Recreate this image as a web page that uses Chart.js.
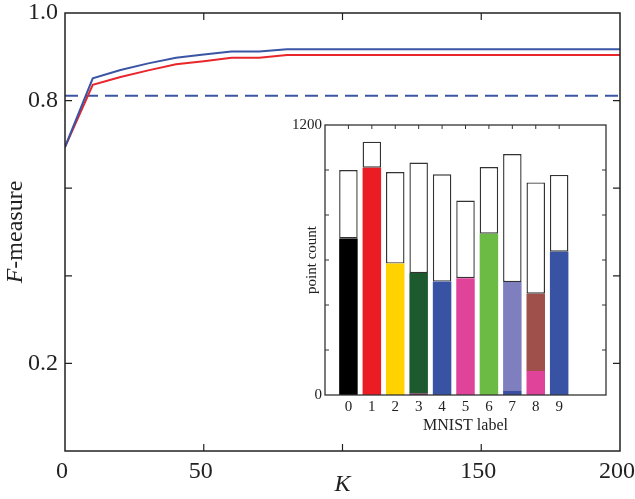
<!DOCTYPE html>
<html>
<head>
<meta charset="utf-8">
<script src="https://cdn.jsdelivr.net/npm/chart.js@4/dist/chart.umd.min.js"></script>
<style>
  body { margin: 0; background: #fff; }
  #wrap { position: relative; width: 635px; height: 499px; }
  #mainChart { position: absolute; left: 0; top: 0; }
  #insetChart { position: absolute; left: 290px; top: 115px; }
</style>
</head>
<body>
<div id="wrap">
  <canvas id="mainChart" width="635" height="499"></canvas>
  <canvas id="insetChart" width="322" height="325"></canvas>
</div>
<script>

// main plot: F-measure against K
var kValues = [0, 10, 20, 30, 40, 50, 60, 70, 80, 90, 100, 110, 120, 130, 140, 150, 160, 170, 180, 190, 200];
var fBlue   = [0.694, 0.851, 0.870, 0.885, 0.898, 0.905, 0.912, 0.912, 0.917, 0.917, 0.917, 0.917, 0.917, 0.917, 0.917, 0.917, 0.917, 0.917, 0.917, 0.917, 0.917];
var fRed    = [0.694, 0.836, 0.854, 0.869, 0.883, 0.890, 0.898, 0.898, 0.904, 0.904, 0.904, 0.904, 0.904, 0.904, 0.904, 0.904, 0.904, 0.904, 0.904, 0.904, 0.904];
var fBaseline = 0.811;
var yLabelsShown = ['1.0', '0.8', '0.2'];

// inset: point count per MNIST label
var mnistLabels     = [0, 1, 2, 3, 4, 5, 6, 7, 8, 9];
var minorCount      = [0, 0, 0, 7, 0, 0, 0, 18, 107, 0];
var majorCount      = [696, 1010, 584, 535, 504, 519, 717, 484, 343, 637];
var clusterTotal    = [1000, 1126, 991, 1033, 981, 864, 1013, 1071, 945, 978];
var majorColors = ['#000000', '#ec1c24', '#ffd200', '#1d5a2e', '#3953a4', '#e0449a', '#6cbb45', '#7f7fc0', '#a0504a', '#3953a4'];
var minorColors = ['#000000', '#000000', '#000000', '#7a2a5a', '#000000', '#000000', '#000000', '#3a4fa0', '#e0449a', '#000000'];

var serif = "'Liberation Serif', 'DejaVu Serif', serif";

function pts(ys){
	return kValues.map(function(k, i){ return {x: k, y: ys[i]}; });
}

// box round the plot area plus inward tick marks
var frameTicks = {
	id: 'frameTicks',
	afterDraw(chart, args, opts){
		var ctx = chart.ctx, a = chart.chartArea, sx = chart.scales.x, sy = chart.scales.y;
		var len = opts.length;
		ctx.save();
		ctx.strokeStyle = opts.color;
		ctx.lineWidth = opts.width;
		ctx.beginPath();
		sy.ticks.forEach(function(t){
			if(t.value <= sy.min || t.value >= sy.max) return;
			var py = sy.getPixelForValue(t.value);
			ctx.moveTo(a.left, py); ctx.lineTo(a.left + len, py);
			ctx.moveTo(a.right, py); ctx.lineTo(a.right - len, py);
		});
		sx.ticks.forEach(function(t){
			if(t.value <= sx.min || t.value >= sx.max) return;
			if(opts.xOnly && opts.xOnly.indexOf(t.value) < 0) return;
			var px = sx.getPixelForValue(t.value);
			if(opts.bottom){ ctx.moveTo(px, a.bottom); ctx.lineTo(px, a.bottom - len); }
			ctx.moveTo(px, a.top); ctx.lineTo(px, a.top + len);
		});
		ctx.stroke();
		ctx.lineWidth = opts.frameWidth;
		ctx.strokeRect(a.left, a.top, a.right - a.left, a.bottom - a.top);
		ctx.restore();
	}
};

// "F-measure" with italic F
var mixedYTitle = {
	id: 'mixedYTitle',
	afterDraw(chart){
		var ctx = chart.ctx, a = chart.chartArea;
		var f1 = 'italic 24px ' + serif, f2 = '24px ' + serif;
		ctx.save();
		ctx.font = f1; var w1 = ctx.measureText('F').width;
		ctx.font = f2; var w2 = ctx.measureText('-measure').width;
		ctx.translate(16, (a.top + a.bottom) / 2);
		ctx.rotate(-Math.PI / 2);
		ctx.fillStyle = '#222';
		ctx.textBaseline = 'middle';
		ctx.textAlign = 'left';
		var x0 = -(w1 + w2) / 2;
		ctx.font = f1; ctx.fillText('F', x0, 0);
		ctx.font = f2; ctx.fillText('-measure', x0 + w1, 0);
		ctx.restore();
	}
};

new Chart(document.getElementById('mainChart'), {
	type: 'line',
	data: {
		datasets: [{
			data: pts(fBlue),
			borderColor: '#3b55a5',
			borderWidth: 2
		},{
			data: pts(fRed),
			borderColor: '#e8262b',
			borderWidth: 2
		},{
			data: [{x: kValues[0], y: fBaseline}, {x: kValues[kValues.length - 1], y: fBaseline}],
			borderColor: '#3b55a5',
			borderWidth: 2,
			borderDash: [13, 7]
		}]
	},
	options: {
		responsive: false,
		animation: false,
		parsing: false,
		elements: { point: { radius: 0 }, line: { tension: 0 } },
		layout: { padding: { top: 13, right: 15, left: 0, bottom: 0 } },
		plugins: {
			legend: { display: false },
			tooltip: { enabled: false },
			frameTicks: { length: 7, width: 1.2, frameWidth: 1.5, color: '#222', bottom: true }
		},
		scales: {
			x: {
				type: 'linear', min: 0, max: 200,
				grid: { display: false, drawTicks: false },
				border: { display: false },
				ticks: {
					stepSize: 50, padding: 6, maxRotation: 0, labelOffset: -3,
					color: '#222', font: { family: serif, size: 24 },
					callback: function(v){ return v === 100 ? '' : String(v); }
				},
				title: {
					display: true, text: 'K', color: '#222',
					font: { family: serif, size: 24, style: 'italic', lineHeight: 1 },
					padding: { top: 0, bottom: 2 }
				},
				afterFit: function(s){ s.height = 48; s.paddingLeft = 0; s.paddingRight = 0; }
			},
			y: {
				min: 0, max: 1,
				grid: { display: false, drawTicks: false },
				border: { display: false },
				ticks: {
					stepSize: 0.2, padding: 7,
					color: '#222', font: { family: serif, size: 24 },
					callback: function(v){
						var s = Number(v).toFixed(1);
						return yLabelsShown.indexOf(s) >= 0 ? s : '';
					}
				},
				afterFit: function(s){ s.width = 65; s.paddingTop = 0; s.paddingBottom = 0; }
			}
		}
	},
	plugins: [frameTicks, mixedYTitle]
});

function bars(values){
	return mnistLabels.map(function(m, i){ return {x: m, y: values[i]}; });
}

var restCount = clusterTotal.map(function(t, i){ return t - majorCount[i] - minorCount[i]; });

new Chart(document.getElementById('insetChart'), {
	type: 'bar',
	data: {
		datasets: [{
			data: bars(minorCount),
			backgroundColor: minorColors,
			borderWidth: 0
		},{
			data: bars(majorCount),
			backgroundColor: majorColors,
			borderWidth: 0
		},{
			data: bars(restCount),
			backgroundColor: '#ffffff',
			borderColor: '#333333',
			borderWidth: 1.4,
			borderSkipped: false
		}]
	},
	options: {
		responsive: false,
		animation: false,
		layout: { padding: { top: 10, right: 6, left: 0, bottom: 0 } },
		datasets: { bar: { categoryPercentage: 1, barPercentage: 0.79 } },
		plugins: {
			legend: { display: false },
			tooltip: { enabled: false },
			frameTicks: { length: 4, width: 1, frameWidth: 1.3, color: '#333', bottom: false, xOnly: mnistLabels }
		},
		scales: {
			x: {
				type: 'linear', min: -1, max: 11, stacked: true, offset: false,
				grid: { display: false, drawTicks: false },
				border: { display: false },
				ticks: {
					stepSize: 1, padding: 3, maxRotation: 0, autoSkip: false,
					color: '#222', font: { family: serif, size: 15 },
					callback: function(v){ return (v >= 0 && v <= 9) ? String(v) : ''; }
				},
				title: {
					display: true, text: 'MNIST label', color: '#222',
					font: { family: serif, size: 16, lineHeight: 1.2 },
					padding: { top: 0, bottom: 5 }
				},
				afterFit: function(s){ s.height = 45; s.paddingLeft = 0; s.paddingRight = 0; }
			},
			y: {
				min: 0, max: 1200, stacked: true,
				grid: { display: false, drawTicks: false },
				border: { display: false },
				ticks: {
					stepSize: 200, padding: 3,
					color: '#222', font: { family: serif, size: 15 },
					callback: function(v){ return (v === 0 || v === 1200) ? String(v) : ''; }
				},
				title: {
					display: true, text: 'point count', color: '#222',
					font: { family: serif, size: 15, lineHeight: 1.2 },
					padding: { top: 13, bottom: 0 }
				},
				afterFit: function(s){ s.width = 35; s.paddingTop = 0; s.paddingBottom = 0; }
			}
		}
	},
	plugins: [frameTicks]
});

</script>
</body>
</html>
